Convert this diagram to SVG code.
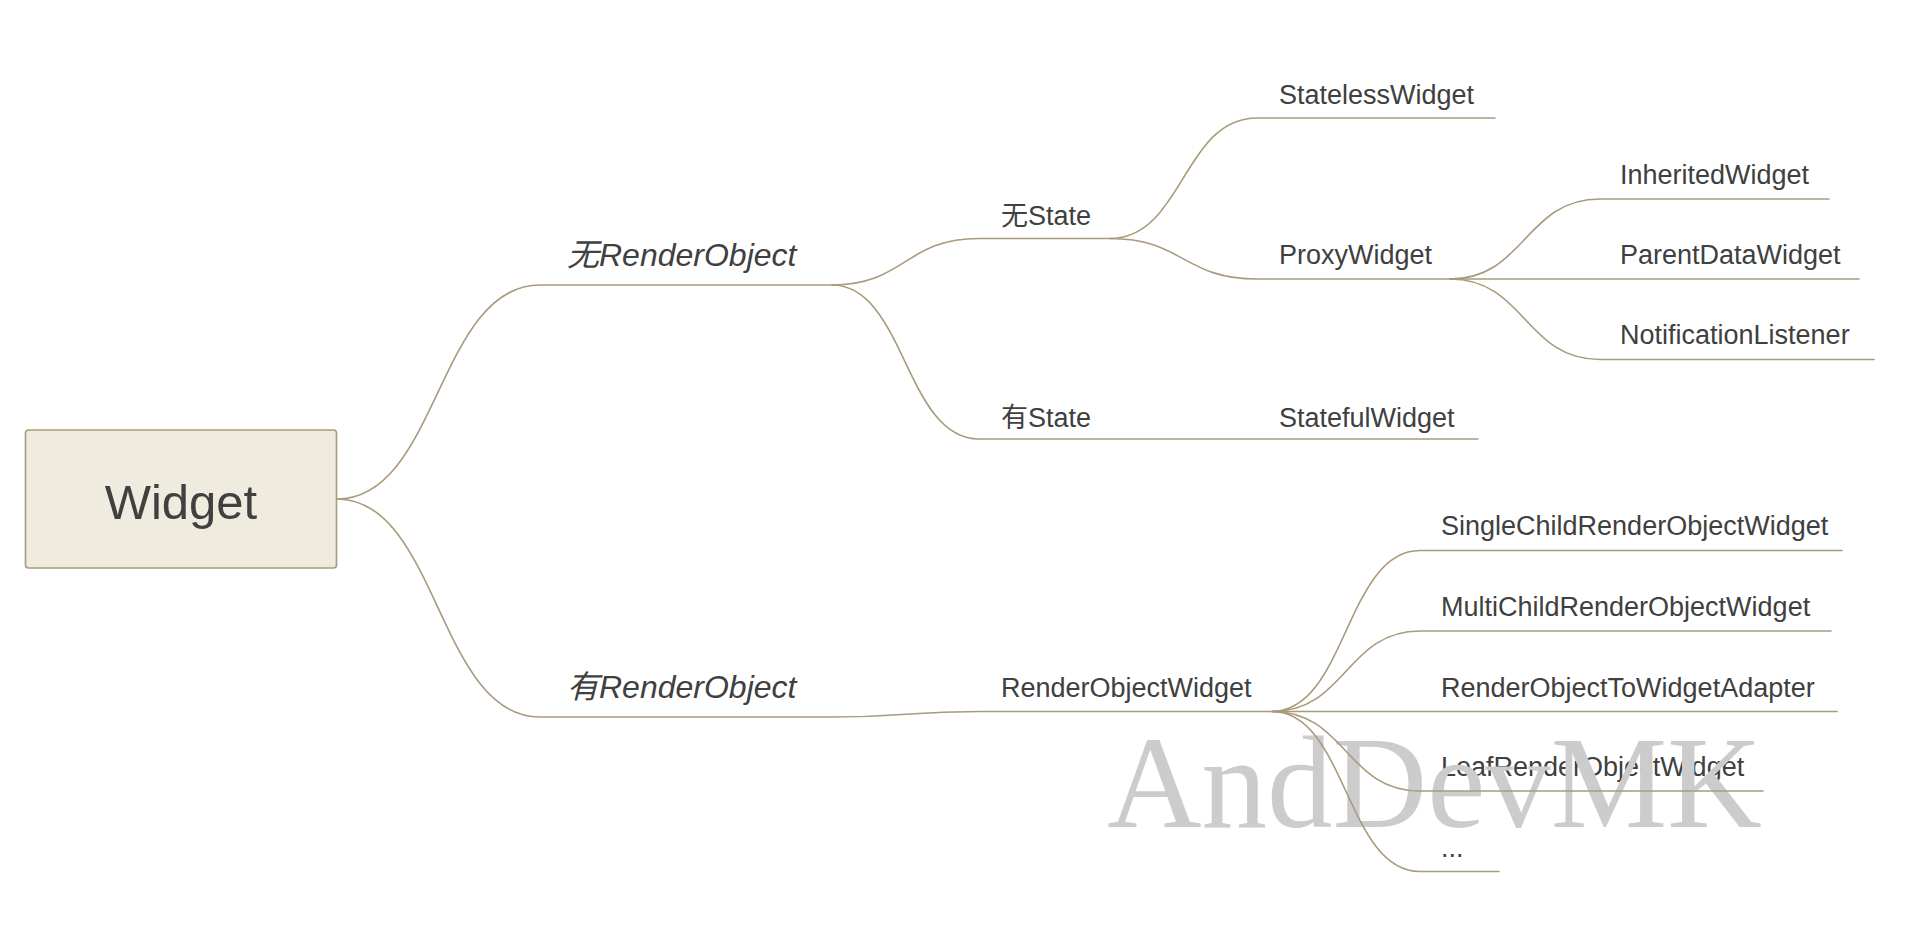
<svg xmlns="http://www.w3.org/2000/svg" width="1918" height="932" viewBox="0 0 1918 932">
<style>
.t{font-family:"Liberation Sans","Noto Sans CJK SC",sans-serif;fill:#404040;font-size:27px}
.m{font-size:32px;font-style:italic}
.c{fill:none;stroke:#a99a7b;stroke-width:1.6;stroke-linecap:round}
.wm{font-family:"Liberation Serif",serif;font-size:131px;fill:#cccccc}
</style>
<rect width="1918" height="932" fill="#ffffff"/>
<g id="node-widget">
<rect x="25.5" y="430" width="311" height="138" rx="3" fill="#f0ebdf" stroke="#a99a7b" stroke-width="1.6"/>
<text class="t" x="181" y="519" text-anchor="middle" style="font-size:49px">Widget</text>
</g>
<g id="node-no-renderobject"><text class="t m" x="567" y="266">无RenderObject</text></g>
<g id="node-has-renderobject"><text class="t m" x="567" y="698">有RenderObject</text></g>
<g id="node-no-state"><text class="t" x="1001" y="225">无State</text></g>
<g id="node-has-state"><text class="t" x="1001" y="427">有State</text></g>
<g id="node-stateless"><text class="t" x="1279" y="104">StatelessWidget</text></g>
<g id="node-proxy"><text class="t" x="1279" y="264">ProxyWidget</text></g>
<g id="node-stateful"><text class="t" x="1279" y="427">StatefulWidget</text></g>
<g id="node-inherited"><text class="t" x="1620" y="184">InheritedWidget</text></g>
<g id="node-parentdata"><text class="t" x="1620" y="264">ParentDataWidget</text></g>
<g id="node-notification"><text class="t" x="1620" y="344">NotificationListener</text></g>
<g id="node-renderobjectwidget"><text class="t" x="1001" y="697">RenderObjectWidget</text></g>
<g id="node-single"><text class="t" x="1441" y="535">SingleChildRenderObjectWidget</text></g>
<g id="node-multi"><text class="t" x="1441" y="616">MultiChildRenderObjectWidget</text></g>
<g id="node-adapter"><text class="t" x="1441" y="697">RenderObjectToWidgetAdapter</text></g>
<g id="node-leaf"><text class="t" x="1441" y="776">LeafRenderObjectWidget</text></g>
<g id="node-more"><text class="t" x="1441" y="857">...</text></g>
<g id="watermark"><text class="wm" x="1107" y="827">AndDevMK</text></g>
<g id="connectors" class="c">
<path class="c" d="M337,499 C438,499 438,285 540,285 H832"/>
<path class="c" d="M337,499 C438,499 438,717 540,717 H832 C906,717 906,711.5 980,711.5 H1272"/>
<path class="c" d="M832,285 C905,285 905,238.5 979,238.5 H1110"/>
<path class="c" d="M832,285 C905,285 905,439 979,439 H1478"/>
<path class="c" d="M1110,238.5 C1183,238.5 1183,118 1257,118 H1495"/>
<path class="c" d="M1110,238.5 C1183,238.5 1183,279 1257,279 H1450"/>
<path class="c" d="M1450,279 C1525,279 1525,199 1600,199 H1829"/>
<path class="c" d="M1450,279 H1859"/>
<path class="c" d="M1450,279 C1525,279 1525,359.5 1600,359.5 H1874"/>
<path class="c" d="M1272,711.5 C1346,711.5 1346,550.5 1420,550.5 H1842"/>
<path class="c" d="M1272,711.5 C1346,711.5 1346,631 1420,631 H1831"/>
<path class="c" d="M1272,711.5 H1837"/>
<path class="c" d="M1272,711.5 C1346,711.5 1346,791 1420,791 H1763"/>
<path class="c" d="M1272,711.5 C1346,711.5 1346,871.5 1420,871.5 H1499"/>
</g>
</svg>
